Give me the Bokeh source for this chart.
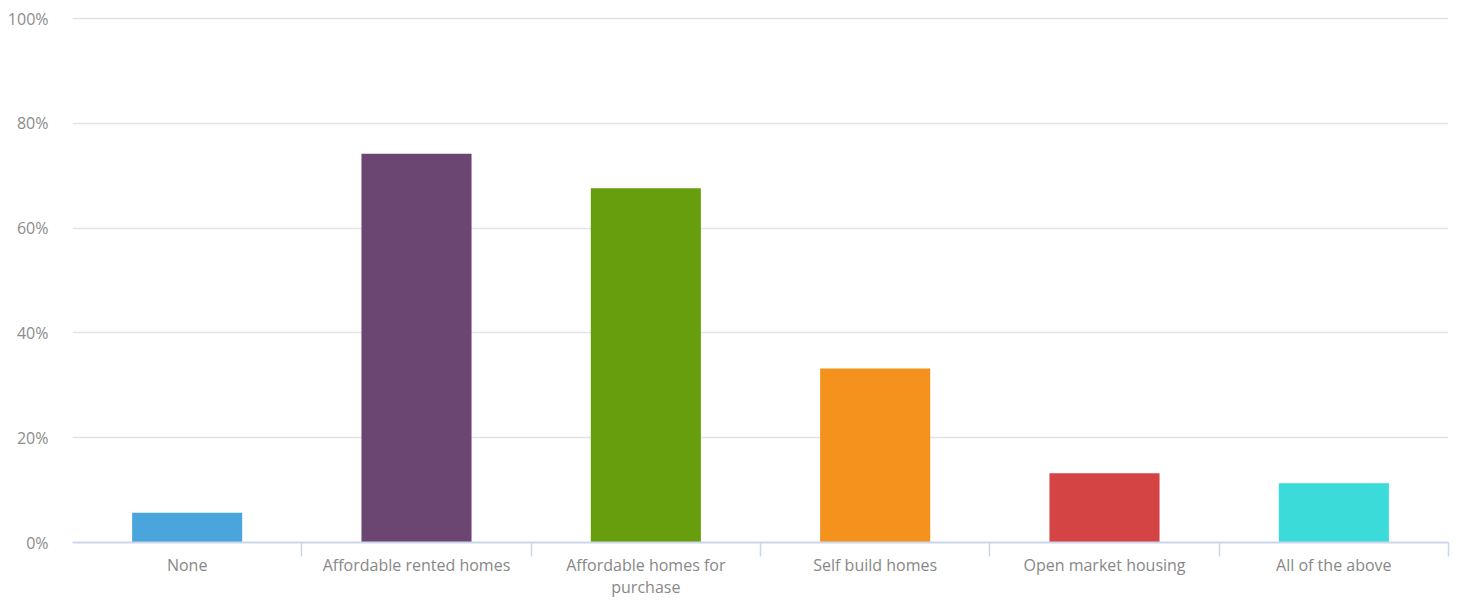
from bokeh.plotting import figure
from bokeh.models import FixedTicker, PrintfTickFormatter, Range1d, ColumnDataSource
from bokeh.embed import file_html
from bokeh.resources import INLINE

categories = ["None", "Affordable rented homes", "Affordable homes for\npurchase",
              "Self build homes", "Open market housing", "All of the above"]
values = [5.7, 74.2, 67.6, 33.2, 13.2, 11.3]
colors = ["#4aa5dc", "#6c4672", "#669e0d", "#f5921e", "#d44444", "#3adbd9"]
y_ticks = [0, 20, 40, 60, 80, 100]

n = len(categories)
xs = [i + 0.5 for i in range(n)]
src = ColumnDataSource(dict(x=xs, top=values, color=colors))

p = figure(frame_width=1376, frame_height=526, output_backend="svg", toolbar_location=None,
           x_range=Range1d(0, n), y_range=Range1d(0, 100.4),
           min_border_left=72, min_border_right=11, min_border_top=16, min_border_bottom=56)
p.outline_line_color = None
p.background_fill_color = "white"
p.border_fill_color = "white"

p.vbar(x="x", top="top", bottom=0, width=0.48, color="color", source=src, line_color=None)

font = "Open Sans"
# x axis
p.xaxis.ticker = FixedTicker(ticks=xs, minor_ticks=list(range(1, n + 1)))
p.xaxis.major_label_overrides = {x: c for x, c in zip(xs, categories)}
p.xaxis.major_tick_line_color = None
p.xaxis.major_tick_out = 8
p.xaxis.major_tick_in = 0
p.xaxis.minor_tick_line_color = "#ccd6eb"
p.xaxis.minor_tick_line_width = 1.5
p.xaxis.minor_tick_out = 14
p.xaxis.minor_tick_in = 0
p.xaxis.axis_line_color = "#ccd6eb"
p.xaxis.axis_line_width = 2
p.xaxis.major_label_text_font = font
p.xaxis.major_label_text_font_size = "16px"
p.xaxis.major_label_text_color = "#888888"
p.xaxis.major_label_text_line_height = 1.0
p.xaxis.major_label_standoff = -3
p.xgrid.grid_line_color = None

# y axis
p.yaxis.ticker = FixedTicker(ticks=y_ticks)
p.yaxis.formatter = PrintfTickFormatter(format="%d%%")
p.yaxis.axis_line_color = None
p.yaxis.major_tick_line_color = None
p.yaxis.major_tick_out = 0
p.yaxis.minor_tick_line_color = None
p.yaxis.major_label_text_font = font
p.yaxis.major_label_text_font_size = "16px"
p.yaxis.major_label_text_color = "#8c8c8c"
p.yaxis.major_label_standoff = 24
p.ygrid.grid_line_color = "#e3e3e3"
p.ygrid.grid_line_width = 1.5

open("out.html", "w").write(file_html(p, INLINE))
